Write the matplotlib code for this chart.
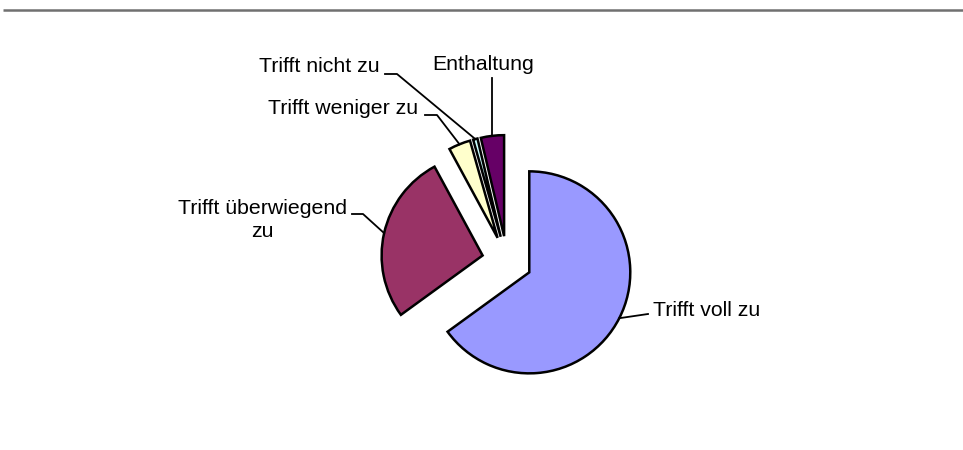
import math
import matplotlib
matplotlib.use('Agg')
import matplotlib.pyplot as plt

plt.rcParams['font.family'] = ['Liberation Sans', 'DejaVu Sans']

categories = ['Trifft voll zu', 'Trifft überwiegend\nzu', 'Trifft weniger zu',
              'Trifft nicht zu', 'Enthaltung']
shares = [65.0, 27.1, 3.5, 0.7, 3.7]
colors = ['#9999FF', '#993366', '#FFFFCC', '#CCFFFF', '#660066']

W, H = 963, 450
fig = plt.figure(figsize=(W / 100, H / 100), dpi=100)
ax = fig.add_axes([0, 0, 1, 1])
ax.set_xlim(0, W)
ax.set_ylim(0, H)
ax.set_aspect('equal')
ax.axis('off')

# top rule
ax.plot([3, W], [H - 10, H - 10], color='#707070', lw=1.8, solid_capstyle='butt')

radius = 101
wedges, _ = ax.pie(shares, colors=colors, startangle=90, counterclock=False,
                   center=(507, 189), radius=radius, explode=[25] * len(shares),
                   wedgeprops=dict(edgecolor='black', linewidth=1.8))
ax.set_xlim(0, W)
ax.set_ylim(0, H)

# label layout: text position, alignment, leader points after the wedge anchor
layout = [
    dict(xy=(653, 139), ha='left', pts=[(648, 136)]),
    dict(xy=(262, 230), ha='center', pts=[(363, 236), (352, 236)]),
    dict(xy=(418, 341), ha='right', pts=[(437, 335), (425, 335)]),
    dict(xy=(380, 383), ha='right', pts=[(397, 376), (385, 376)]),
    dict(xy=(483, 386), ha='center', pts=None),
]

for w, lab, lay in zip(wedges, categories, layout):
    mid = math.radians((w.theta1 + w.theta2) / 2)
    cx, cy = w.center
    anchor = (cx + w.r * math.cos(mid), cy + w.r * math.sin(mid))
    if lay['pts'] is None:
        pts = [anchor, (anchor[0], 372)]
    else:
        pts = [anchor] + lay['pts']
    ax.plot([p[0] for p in pts], [p[1] for p in pts], color='black', lw=1.3)
    ax.text(lay['xy'][0], lay['xy'][1], lab, ha=lay['ha'], va='center',
            multialignment='center', fontsize=15.3, color='black', linespacing=1.3)

fig.savefig('out.png', dpi=100)
